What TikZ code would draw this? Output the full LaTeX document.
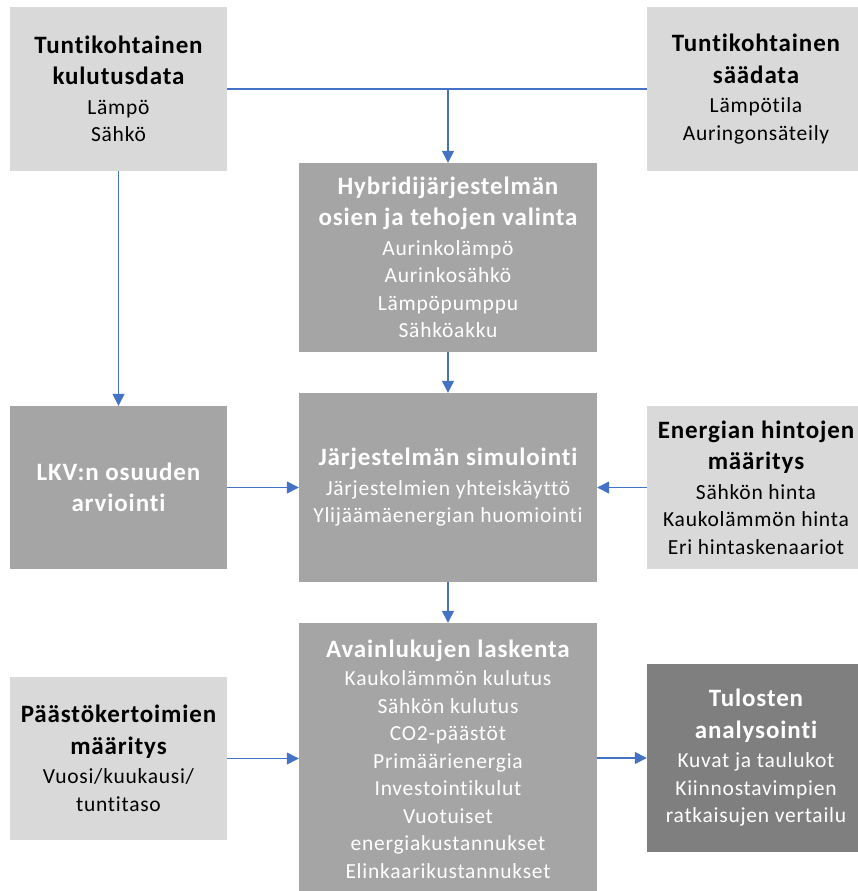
\documentclass[tikz,border=0pt]{standalone}
\usepackage{fontspec}
\setmainfont{Carlito}[Ligatures=NoCommon, LetterSpace=3.5]
\usetikzlibrary{arrows.meta}
\definecolor{vaalea}{HTML}{D9D9D9}
\definecolor{keski}{HTML}{A5A5A5}
\definecolor{tumma}{HTML}{7F7F7F}
\definecolor{nuolenvari}{HTML}{4472C4}
\newcommand{\otsikko}[1]{{\fontsize{25}{31}\selectfont\bfseries #1}}

\begin{document}
\begin{tikzpicture}[x=1pt,y=-1pt]
\tikzset{
    laatikko/.style={rectangle, inner sep=0pt, align=center, font=\fontsize{21.5}{27.5}\selectfont},
    vaalea/.style={laatikko, fill=vaalea, text=black},
    harmaa/.style={laatikko, fill=keski, text=white},
    tumma/.style={laatikko, fill=tumma, text=white},
    yhteys/.style={draw=nuolenvari, line width=1.4pt},
    nuoli/.style={yhteys, -{Triangle[length=12pt,width=12pt]}}
}
\useasboundingbox (0,0) rectangle (857,891);
% ylarivi
\node[vaalea, minimum width=217pt, minimum height=164pt] (kulutus) at (118.5,89)
  {\otsikko{Tuntikohtainen}\\[4pt]\otsikko{kulutusdata}\\[2pt]Lämpö\\Sähkö};
\node[vaalea, minimum width=218pt, minimum height=164pt] (saa) at (756,89)
  {\otsikko{Tuntikohtainen}\\[4pt]\otsikko{säädata}\\[2pt]Lämpötila\\Auringonsäteily};
\node[harmaa, minimum width=298pt, minimum height=189pt] (hybridi) at (448,257.5)
  {\otsikko{Hybridijärjestelmän}\\[4pt]\otsikko{osien ja tehojen valinta}\\[2pt]Aurinkolämpö\\Aurinkosähkö\\Lämpöpumppu\\Sähköakku};
% keskirivi
\node[harmaa, minimum width=217pt, minimum height=163pt] (lkv) at (118.5,487.5)
  {\otsikko{LKV:n osuuden}\\[4pt]\otsikko{arviointi}};
\node[harmaa, minimum width=298pt, minimum height=189pt] (simulointi) at (448,487.5)
  {\otsikko{Järjestelmän simulointi}\\[2pt]Järjestelmien yhteiskäyttö\\Ylijäämäenergian huomiointi};
\node[vaalea, minimum width=218pt, minimum height=163pt] (hinnat) at (756,487.5)
  {\otsikko{Energian hintojen}\\[4pt]\otsikko{määritys}\\[2pt]Sähkön hinta\\Kaukolämmön hinta\\Eri hintaskenaariot};
% alarivi
\node[vaalea, minimum width=217pt, minimum height=163pt] (paastot) at (118.5,758.5)
  {\otsikko{Päästökertoimien}\\[4pt]\otsikko{määritys}\\[2pt]Vuosi/kuukausi/\\tuntitaso};
\node[harmaa, minimum width=298pt, minimum height=272pt] (avainluvut) at (448,759)
  {\otsikko{Avainlukujen laskenta}\\[1pt]Kaukolämmön kulutus\\Sähkön kulutus\\CO2-päästöt\\Primäärienergia\\Investointikulut\\Vuotuiset\\energiakustannukset\\Elinkaarikustannukset};
\node[tumma, minimum width=218pt, minimum height=188pt] (tulokset) at (756,758)
  {\otsikko{Tulosten}\\[4pt]\otsikko{analysointi}\\[2pt]Kuvat ja taulukot\\Kiinnostavimpien\\ratkaisujen vertailu};
% yhteydet
\draw[yhteys] (kulutus.east) -- (saa.west);
\draw[nuoli] (kulutus.east -| hybridi.north) -- (hybridi.north);
\draw[nuoli] (kulutus.south) -- (lkv.north);
\draw[nuoli] (hybridi.south) -- (simulointi.north);
\draw[nuoli] (lkv.east) -- (simulointi.west);
\draw[nuoli] (hinnat.west) -- (simulointi.east);
\draw[nuoli] (simulointi.south) -- (avainluvut.north);
\draw[nuoli] (paastot.east) -- (avainluvut.west |- paastot.east);
\draw[nuoli] (avainluvut.east |- tulokset.west) -- (tulokset.west);
\end{tikzpicture}
\end{document}
